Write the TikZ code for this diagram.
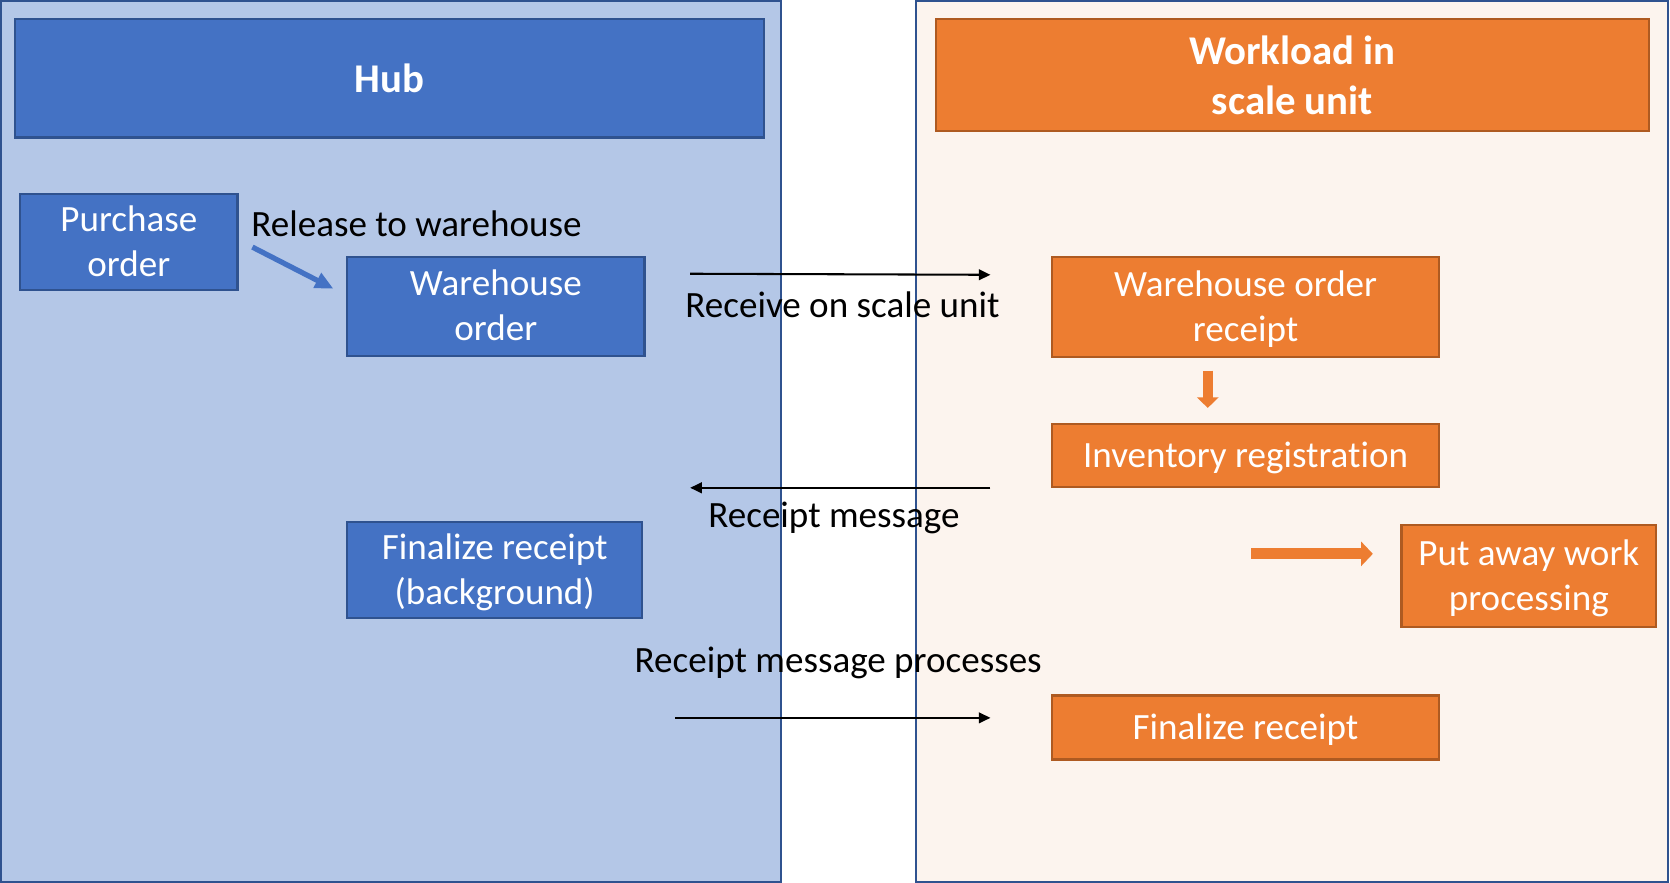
\documentclass[tikz,border=0pt]{standalone}
\usepackage{fontspec}
\setmainfont{Carlito}[Ligatures=NoCommon]
\usetikzlibrary{arrows.meta}
\definecolor{hubfill}{HTML}{B4C7E7}
\definecolor{blueline}{HTML}{2F528F}
\definecolor{bluefill}{HTML}{4472C4}
\definecolor{orangefill}{HTML}{ED7D31}
\definecolor{orangeline}{HTML}{AE5A21}
\definecolor{wlfill}{HTML}{FCF4EE}
\newcommand{\twolines}[2]{\vtop{\halign{\hfil##\hfil\cr #1\cr #2\cr}}}
\begin{document}
\begin{tikzpicture}[x=0.01cm,y=-0.01cm,
  struts/.style={execute at begin node={\rule{0pt}{9pt}}, execute at end node={\rule[-2.6pt]{0pt}{2.6pt}}},
  bstep/.style={draw=blueline, fill=bluefill, line width=0.6pt, inner sep=0pt},
  ostep/.style={draw=orangeline, fill=orangefill, line width=0.6pt, inner sep=0pt},
  boxtext/.style={inner sep=0pt, text=white, anchor=base, font=\fontsize{9.9}{12}\selectfont},
  upper/.style={boxtext, yshift=0.098cm},
  single/.style={boxtext, yshift=-0.113cm},
  headblue/.style={draw=blueline, fill=bluefill, line width=0.6pt, text=white, align=center, inner sep=0pt, font=\fontsize{10.9}{13.4}\selectfont\bfseries},
  headorange/.style={draw=orangeline, fill=orangefill, line width=0.6pt, text=white, align=center, inner sep=0pt, font=\fontsize{10.9}{13.4}\selectfont\bfseries},
  lbl/.style={inner sep=0pt, text=black, font=\fontsize{9.9}{12}\selectfont, struts},
  msgarrow/.style={line width=0.55pt, -{Triangle[length=0.11cm,width=0.1cm]}}
]
\useasboundingbox (0,0) rectangle (1568,829);
% panels
\draw[fill=hubfill, draw=blueline, line width=0.6pt] (1,1) rectangle (733,828);
\draw[fill=wlfill, draw=blueline, line width=0.6pt] (860,1) rectangle (1566,828);
% headers
\node[headblue, minimum width=7.03cm, minimum height=1.11cm] (hub) at (365.5,73.5) {Hub};
\node[headorange, minimum width=6.69cm, minimum height=1.05cm] (wl) at (1213.5,70.5) {Workload in\\scale unit};
% hub boxes
\node[bstep, minimum width=2.04cm, minimum height=0.90cm] (po) at (121,227) {};
\node[upper] (po-t) at (po.center) {\twolines{Purchase}{order}};
\node[bstep, minimum width=2.79cm, minimum height=0.93cm] (wo) at (465.5,287.5) {};
\node[upper] (wo-t) at (wo.center) {\twolines{Warehouse}{order}};
\node[bstep, minimum width=2.77cm, minimum height=0.90cm] (frb) at (464.5,535) {};
\node[upper] (frb-t) at (frb.center) {\twolines{Finalize receipt}{(background)}};
% scale unit boxes
\node[ostep, minimum width=3.63cm, minimum height=0.94cm] (wor) at (1169.5,288) {};
\node[upper] (wor-t) at (wor.center) {\twolines{Warehouse order}{receipt}};
\node[ostep, minimum width=3.63cm, minimum height=0.59cm] (ir) at (1169.5,427.5) {};
\node[single] (ir-t) at (ir.center) {Inventory registration};
\node[ostep, minimum width=2.39cm, minimum height=0.96cm] (paw) at (1435.5,541) {};
\node[upper] (paw-t) at (paw.center) {\twolines{Put away work}{processing}};
\node[ostep, minimum width=3.63cm, minimum height=0.60cm] (fr) at (1169.5,683) {};
\node[single] (fr-t) at (fr.center) {Finalize receipt};
% labels
\node[lbl] (l1) at (391,211) {Release to warehouse};
\node[lbl] (l2) at (791,287) {Receive on scale unit};
\node[lbl] (l3) at (783,484) {Receipt message};
\node[lbl] (l4) at (787,620) {Receipt message processes};
% arrow end points
\coordinate (b1) at (237,232);
\coordinate (b2) at (313,271);
\coordinate (r1) at (648,257);
\coordinate (r2) at (930,258);
\coordinate (m1) at (930,458);
\coordinate (m2) at (648,458);
\coordinate (p1) at (634,674);
\coordinate (p2) at (930,674);
\coordinate (d1) at (1134,348);
\coordinate (d2) at (1134,383);
\coordinate (h1) at (1175,520);
\coordinate (h2) at (1289,520);
% arrows
\draw[bluefill, line width=1.4pt, -{Triangle[length=0.17cm,width=0.15cm]}] (b1) -- (b2);
\draw[msgarrow] (r1) -- (r2);
\draw[msgarrow] (m1) -- (m2);
\draw[msgarrow] (p1) -- (p2);
\draw[orangefill, line width=2.6pt, -{Triangle[length=0.1cm,width=0.2cm]}] (d1) -- (d2);
\draw[orangefill, line width=3.0pt, -{Triangle[length=0.11cm,width=0.225cm]}] (h1) -- (h2);
\end{tikzpicture}
\end{document}
